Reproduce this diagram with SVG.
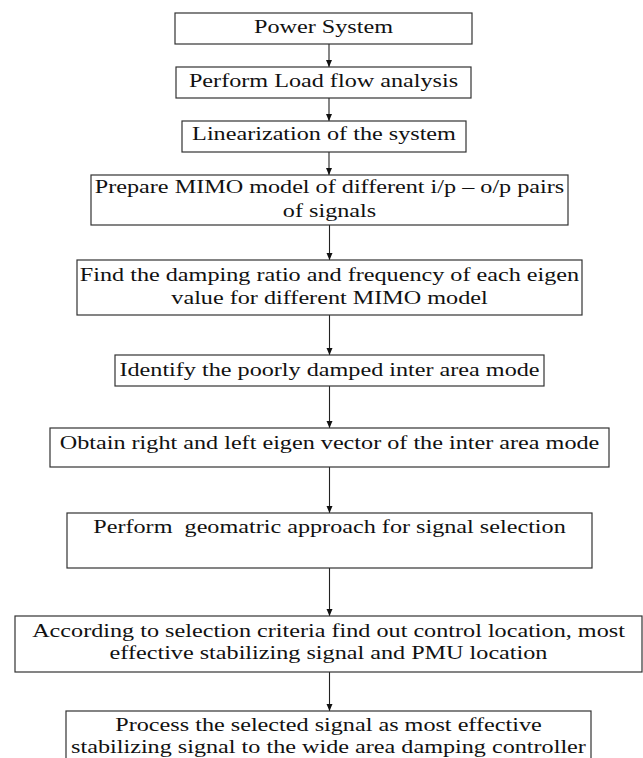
<svg xmlns="http://www.w3.org/2000/svg" width="643" height="758" viewBox="0 0 643 758">
<defs>
<style>
.box{fill:#fff;stroke:#333;stroke-width:1.2}
.t{font-family:"Liberation Serif","Times New Roman",serif;font-size:18.6px;fill:#111;text-anchor:middle;white-space:pre}
.c{stroke:#222;stroke-width:1.1;fill:none;marker-end:url(#ah)}
</style>
<marker id="ah" markerUnits="userSpaceOnUse" markerWidth="8" markerHeight="8" refX="7" refY="3" orient="auto">
<path d="M0,0 L7,3 L0,6 z" fill="#111"/>
</marker>
</defs>
<rect width="643" height="758" fill="#fff"/>
<g id="connectors">
<line class="c" x1="329" y1="44" x2="329" y2="67"/>
<line class="c" x1="329" y1="98" x2="329" y2="121"/>
<line class="c" x1="329" y1="152" x2="329" y2="175"/>
<line class="c" x1="329.5" y1="225" x2="329.5" y2="260"/>
<line class="c" x1="329.5" y1="315" x2="329.5" y2="355"/>
<line class="c" x1="329.5" y1="386" x2="329.5" y2="428"/>
<line class="c" x1="329.5" y1="467" x2="329.5" y2="513"/>
<line class="c" x1="329.5" y1="568" x2="329.5" y2="616"/>
<line class="c" x1="329.5" y1="672" x2="329.5" y2="711"/>
</g>
<g id="n1"><rect class="box" x="175" y="13" width="297" height="31"/>
<text class="t" transform="translate(323.5,32.5) scale(1.3,1)">Power System</text></g>
<g id="n2"><rect class="box" x="176" y="67" width="295" height="31"/>
<text class="t" transform="translate(323.5,86.5) scale(1.3,1)">Perform Load flow analysis</text></g>
<g id="n3"><rect class="box" x="182" y="121" width="284" height="31"/>
<text class="t" transform="translate(324,140) scale(1.3,1)">Linearization of the system</text></g>
<g id="n4"><rect class="box" x="91" y="175" width="477" height="50"/>
<text class="t" transform="translate(329.5,193) scale(1.3,1)">Prepare MIMO model of different i/p – o/p pairs</text>
<text class="t" transform="translate(329.5,216.5) scale(1.3,1)">of signals</text></g>
<g id="n5"><rect class="box" x="77" y="260" width="505" height="55"/>
<text class="t" transform="translate(329.5,280.5) scale(1.3,1)">Find the damping ratio and frequency of each eigen</text>
<text class="t" transform="translate(329.5,304) scale(1.3,1)">value for different MIMO model</text></g>
<g id="n6"><rect class="box" x="115" y="355" width="429" height="31"/>
<text class="t" transform="translate(329.5,375.5) scale(1.3,1)">Identify the poorly damped inter area mode</text></g>
<g id="n7"><rect class="box" x="50" y="428" width="559" height="39"/>
<text class="t" transform="translate(329.5,448.5) scale(1.3,1)">Obtain right and left eigen vector of the inter area mode</text></g>
<g id="n8"><rect class="box" x="67" y="513" width="525" height="55"/>
<text class="t" transform="translate(329.5,532.5) scale(1.3,1)">Perform  geomatric approach for signal selection</text></g>
<g id="n9"><rect class="box" x="15" y="616" width="627" height="56"/>
<text class="t" transform="translate(328.5,636.5) scale(1.3,1)">According to selection criteria find out control location, most</text>
<text class="t" transform="translate(328.5,659) scale(1.3,1)">effective stabilizing signal and PMU location</text></g>
<g id="n10"><rect class="box" x="66" y="711" width="525" height="60"/>
<text class="t" transform="translate(328.5,730.5) scale(1.3,1)">Process the selected signal as most effective</text>
<text class="t" transform="translate(328.5,752.5) scale(1.3,1)">stabilizing signal to the wide area damping controller</text></g>
</svg>
